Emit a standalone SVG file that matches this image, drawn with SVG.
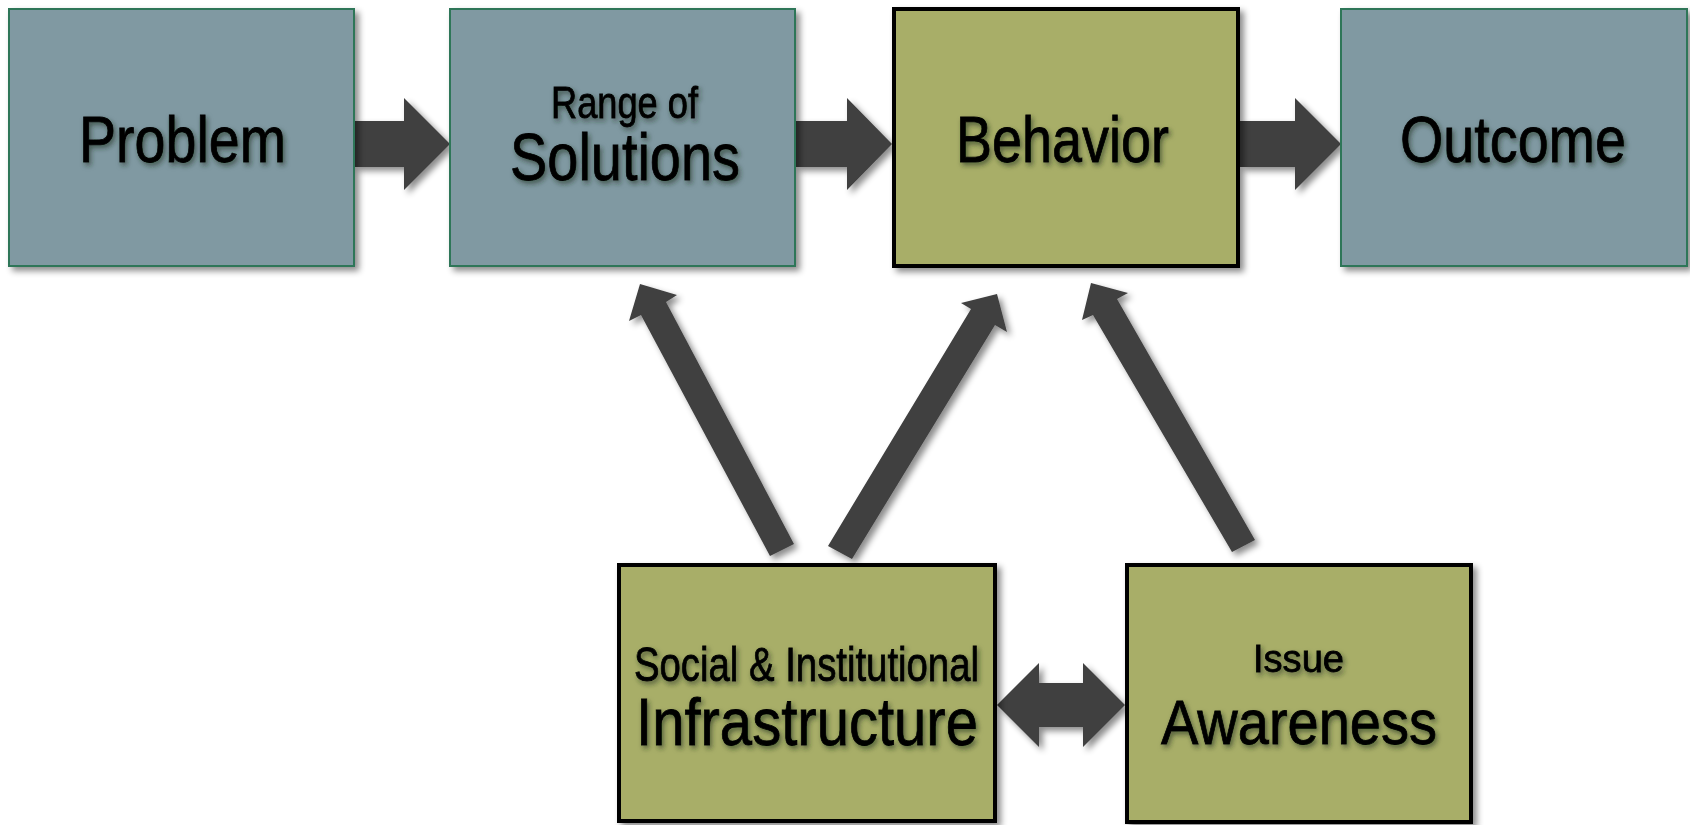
<svg xmlns="http://www.w3.org/2000/svg" width="1690" height="825" viewBox="0 0 1690 825">
<defs>
<filter id="shadow" x="-10%" y="-10%" width="125%" height="125%">
<feDropShadow dx="4" dy="4" stdDeviation="3" flood-color="#000" flood-opacity="0.45"/>
</filter>
<filter id="tshadow" x="-10%" y="-20%" width="125%" height="150%">
<feDropShadow dx="2" dy="3" stdDeviation="2.5" flood-color="#1a2a20" flood-opacity="0.6"/>
</filter>
<style>
.blue{fill:#8099A2;stroke:#2D7658;stroke-width:2}
.olive{fill:#A8AE68;stroke:#000;stroke-width:4}
.arrow{fill:#3F3F3F}
.t{font-family:"Liberation Sans Narrow","Liberation Sans",Arial,sans-serif;fill:#000;stroke:#000;stroke-width:0.8}
</style>
</defs>
<rect width="1690" height="825" fill="#fff"/>
<g id="connectors" filter="url(#shadow)">
<path class="arrow" d="M354,121 H404 V98 L450,144 L404,190 V167 H354 Z"/>
<path class="arrow" d="M795,121 H847 V98 L892,144 L847,190 V167 H795 Z"/>
<path class="arrow" d="M1240,121 H1295 V98 L1341,144 L1295,190 V167 H1240 Z"/>
<path class="arrow" d="M997,705 L1039,663 V683 H1083 V663 L1125,705 L1083,747 V727 H1039 V747 Z"/>
<path class="arrow" d="M640,284 L677,295 L666,302 L794,544 L770,556 L641,315 L629,321 Z"/>
<path class="arrow" d="M997,294 L1007,332 L995,325 L852,559 L828,546 L971,309 L961,303 Z"/>
<path class="arrow" d="M1091,283 L1128,293 L1117,299 L1255,540 L1232,552 L1093,315 L1082,320 Z"/>
</g>
<g id="problem">
<rect class="blue" x="9" y="9" width="345" height="257" filter="url(#shadow)"/>
<text class="t" x="79" y="162" font-size="64" textLength="207" lengthAdjust="spacingAndGlyphs" filter="url(#tshadow)">Problem</text>
</g>
<g id="solutions">
<rect class="blue" x="450" y="9" width="345" height="257" filter="url(#shadow)"/>
<text class="t" x="551" y="118" font-size="45" textLength="147" lengthAdjust="spacingAndGlyphs" filter="url(#tshadow)">Range of</text>
<text class="t" x="510" y="180" font-size="66" textLength="230" lengthAdjust="spacingAndGlyphs" filter="url(#tshadow)">Solutions</text>
</g>
<g id="behavior">
<rect class="olive" x="894" y="9" width="344" height="257" filter="url(#shadow)"/>
<text class="t" x="956" y="162" font-size="64" textLength="213" lengthAdjust="spacingAndGlyphs" filter="url(#tshadow)">Behavior</text>
</g>
<g id="outcome">
<rect class="blue" x="1341" y="9" width="346" height="257" filter="url(#shadow)"/>
<text class="t" x="1400" y="162" font-size="64" textLength="226" lengthAdjust="spacingAndGlyphs" filter="url(#tshadow)">Outcome</text>
</g>
<g id="infrastructure">
<rect class="olive" x="619" y="565" width="376" height="256" filter="url(#shadow)"/>
<text class="t" x="634" y="681" font-size="49" textLength="345" lengthAdjust="spacingAndGlyphs" filter="url(#tshadow)">Social &amp; Institutional</text>
<text class="t" x="636" y="745" font-size="67" textLength="342" lengthAdjust="spacingAndGlyphs" filter="url(#tshadow)">Infrastructure</text>
</g>
<g id="awareness">
<rect class="olive" x="1127" y="565" width="344" height="257" filter="url(#shadow)"/>
<text class="t" x="1253" y="672" font-size="38" textLength="91" lengthAdjust="spacingAndGlyphs" filter="url(#tshadow)">Issue</text>
<text class="t" x="1161" y="744" font-size="63" textLength="276" lengthAdjust="spacingAndGlyphs" filter="url(#tshadow)">Awareness</text>
</g>
</svg>
